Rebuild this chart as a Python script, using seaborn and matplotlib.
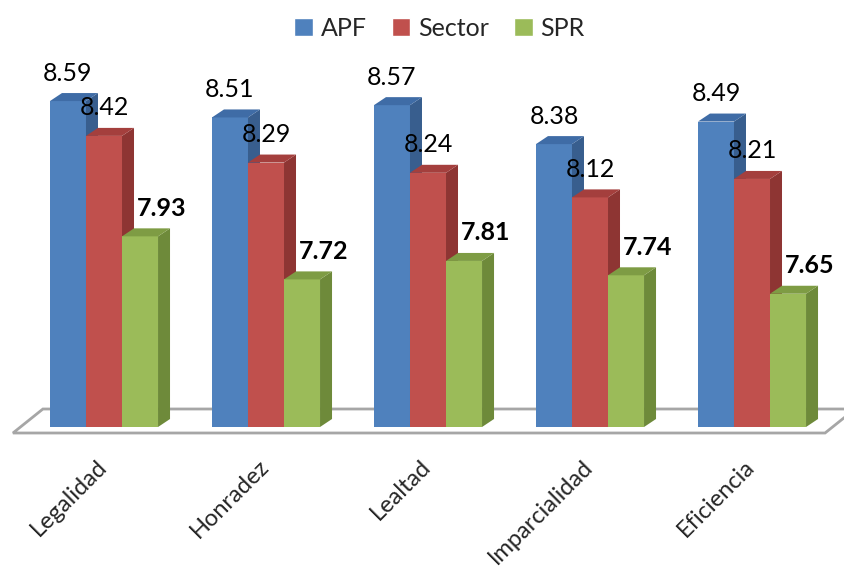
"""Excel-style 3D grouped bars: APF / Sector / SPR by value."""

import matplotlib
matplotlib.use("Agg")
import matplotlib.pyplot as plt
import matplotlib.transforms as mtransforms
from matplotlib.patches import Patch, Polygon
import numpy as np
import pandas as pd
import seaborn as sns

# ── Data ──
CATEGORIES = ["Legalidad", "Honradez", "Lealtad", "Imparcialidad", "Eficiencia"]
SERIES = ["APF", "Sector", "SPR"]
APF = [8.59, 8.51, 8.57, 8.38, 8.49]
SECTOR = [8.42, 8.29, 8.24, 8.12, 8.21]
SPR = [7.93, 7.72, 7.81, 7.74, 7.65]
BASE = 7.0  # value axis starts here

# ── Colours (front, side, top) ──
FRONT = {"APF": "#4F81BD", "Sector": "#C0504D", "SPR": "#9BBB59"}
SIDE = {"APF": "#385E8E", "Sector": "#8E3533", "SPR": "#6E8A3A"}
TOP = {"APF": "#3F6CA6", "Sector": "#A43F3D", "SPR": "#7E9C44"}

sns.set_theme(style="white")
plt.rcParams["font.family"] = ["Lato", "DejaVu Sans"]

df = pd.DataFrame({
    "category": CATEGORIES * 3,
    "series": ["APF"] * 5 + ["Sector"] * 5 + ["SPR"] * 5,
    "value": APF + SECTOR + SPR,
})
df["above"] = df["value"] - BASE

fig = plt.figure(figsize=(8.45, 5.7), dpi=100)
# pixel layout: group centre 104 + 162*i, base at y=427 px, 205 px per unit
px_x, px_y = 162.0, 205.0
x0_lim, x1_lim = -0.6, 4.6
y0_lim, y1_lim = -0.1, 1.9
left = (104 + x0_lim * px_x) / 845
bottom = (570 - (427 - y0_lim * px_y)) / 570
ax = fig.add_axes([left, bottom, (x1_lim - x0_lim) * px_x / 845,
                   (y1_lim - y0_lim) * px_y / 570])

sns.barplot(data=df, x="category", y="above", hue="series", hue_order=SERIES,
            palette=FRONT, width=0.667, saturation=1, legend=False, ax=ax,
            linewidth=0)

dx, dy = 12 / px_x, 8 / px_y

# floor
fl_front, fl_back = -6 / px_y, 18 / px_y
fl_l, fl_r, skew = -0.562, len(CATEGORIES) - 1 + 0.451, 0.185
floor = Polygon([(fl_l, fl_front), (fl_r, fl_front), (fl_r + skew, fl_back),
                 (fl_l + skew, fl_back)], closed=True, facecolor="white",
                edgecolor="#A6A6A6", linewidth=2, zorder=1, clip_on=False)
ax.add_patch(floor)

# 3D faces + labels
for k, (name, cont) in enumerate(zip(SERIES, ax.containers)):
    vals = {"APF": APF, "Sector": SECTOR, "SPR": SPR}[name]
    for bar, v in zip(cont.patches, vals):
        bx0 = bar.get_x()
        bx1 = bx0 + bar.get_width()
        h = bar.get_height()
        bar.set_zorder(2 + k)
        side = Polygon([(bx1, 0), (bx1 + dx, dy), (bx1 + dx, h + dy), (bx1, h)],
                       closed=True, facecolor=SIDE[name], edgecolor="none",
                       zorder=2.5 + k)
        top = Polygon([(bx0, h), (bx0 + dx, h + dy), (bx1 + dx, h + dy), (bx1, h)],
                      closed=True, facecolor=TOP[name], edgecolor="none",
                      zorder=2.5 + k)
        ax.add_patch(side)
        ax.add_patch(top)
        cx = (bx0 + bx1) / 2
        bold = name == "SPR"
        off = 22 / px_x if bold else 0
        ax.text(cx + off, h + 28 / px_y, f"{v:.2f}", ha="center", va="center",
                fontsize=18, fontweight="bold" if bold else "normal",
                color="black", zorder=10)

ax.set_xlim(x0_lim, x1_lim)
ax.set_ylim(y0_lim, y1_lim)
ax.set_yticks([])
ax.set_xlabel("")
ax.set_ylabel("")
sns.despine(ax=ax, left=True, bottom=True)
ax.tick_params(axis="x", length=0, pad=6)
shift = mtransforms.ScaledTranslation(-0.08, 0, fig.dpi_scale_trans)
for lab in ax.get_xticklabels():
    lab.set_rotation(45)
    lab.set_ha("right")
    lab.set_rotation_mode("anchor")
    lab.set_fontsize(17)
    lab.set_transform(lab.get_transform() + shift)

handles = [Patch(facecolor=FRONT[s], label=s) for s in SERIES]
fig.legend(handles=handles, loc="upper center", bbox_to_anchor=(0.52, 1.01),
           ncol=3, frameon=False, fontsize=18, handlelength=0.75,
           handleheight=0.75, handletextpad=0.3, columnspacing=1.0)

fig.savefig("out.png", dpi=100)
